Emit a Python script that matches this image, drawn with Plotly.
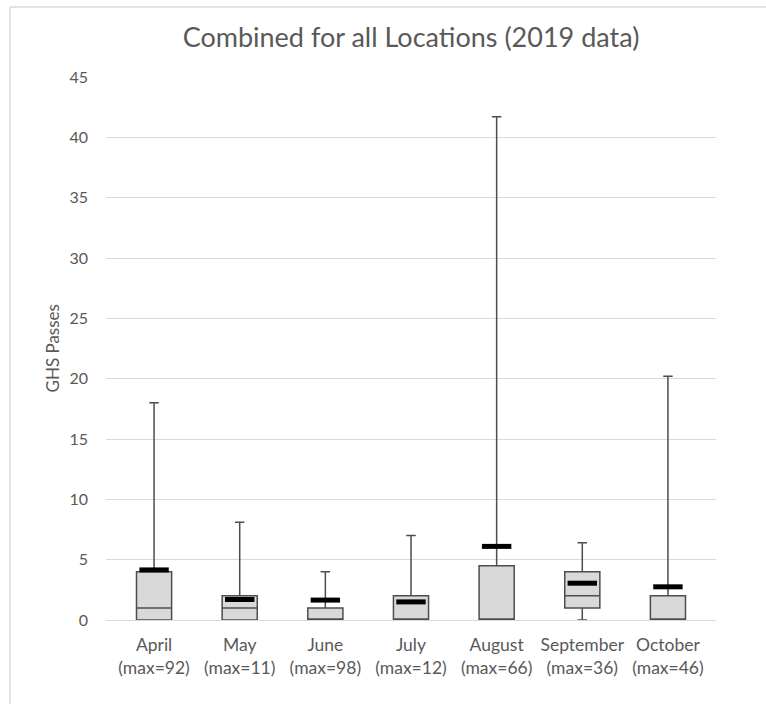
import plotly.graph_objects as go

months = ["April", "May", "June", "July", "August", "September", "October"]
maxima = [92, 11, 98, 12, 66, 36, 46]
q1 = [0, 0, 0, 0, 0, 1, 0]
median = [1, 1, 0, 0, 0, 2, 0]
q3 = [4, 2, 1, 2, 4.5, 4, 2]
lower = [0, 0, 0, 0, 0, 0, 0]
upper = [18, 8.1, 4, 7, 41.7, 6.4, 20.2]
mean = [4.15, 1.7, 1.65, 1.5, 6.1, 3.05, 2.75]

labels = [f"{m}<br>(max={mx})" for m, mx in zip(months, maxima)]

FONT = "Lato"
TXT = "#595959"
BORDER = "#d9d9d9"

fig = go.Figure()
fig.add_trace(go.Box(
    x=labels, q1=q1, median=median, q3=q3,
    lowerfence=lower, upperfence=upper,
    fillcolor="#d9d9d9",
    line=dict(color="#4d4d4d", width=1.5),
    width=0.41, whiskerwidth=0.27,
    boxpoints=False, showlegend=False, hoverinfo="skip",
))
fig.add_trace(go.Scatter(
    x=labels, y=mean, mode="markers",
    marker=dict(symbol="line-ew", size=21, line=dict(color="black", width=5)),
    showlegend=False, hoverinfo="skip",
))

X0 = (10 - 106) / 610
X1 = (766 - 106) / 610
Y0 = (620 - 704) / 543
Y1 = (620 - 7) / 543

fig.update_layout(
    width=766, height=704,
    margin=dict(l=106, r=50, t=77, b=84),
    paper_bgcolor="white", plot_bgcolor="white",
    font=dict(family=FONT, color=TXT, size=16),
    title=dict(text="Combined for all Locations (2019 data)", x=0.5, xanchor="center",
               xref="paper", y=1 - 38 / 704, yanchor="middle",
               font=dict(family=FONT, size=27, color=TXT)),
    xaxis=dict(type="category", showgrid=False, showline=True, linecolor="#d9d9d9",
               linewidth=1, ticks="", automargin=False, ticklabelstandoff=9,
               tickfont=dict(size=17.5, color=TXT)),
    yaxis=dict(range=[0, 45], dtick=5, showgrid=True, gridcolor="#d9d9d9", gridwidth=1,
               zeroline=False, showline=False, ticks="", ticklabelstandoff=17,
               automargin=False, tickfont=dict(size=16, color=TXT)),
    annotations=[dict(text="GHS Passes", xref="paper", yref="paper", x=(52 - 106) / 610,
                      y=0.5, xanchor="center", yanchor="middle", textangle=-90,
                      showarrow=False, font=dict(size=17, color=TXT, family=FONT))],
    shapes=[
        dict(type="line", xref="paper", yref="paper", x0=X0, x1=X1, y0=Y1, y1=Y1,
             line=dict(color=BORDER, width=1.5), layer="above"),
        dict(type="line", xref="paper", yref="paper", x0=X0, x1=X0, y0=Y0, y1=Y1,
             line=dict(color=BORDER, width=1.5), layer="above"),
    ],
)

fig.write_html("out.html", config={"displayModeBar": False},
               post_script="document.body.style.margin='0';document.body.style.overflow='hidden';")
